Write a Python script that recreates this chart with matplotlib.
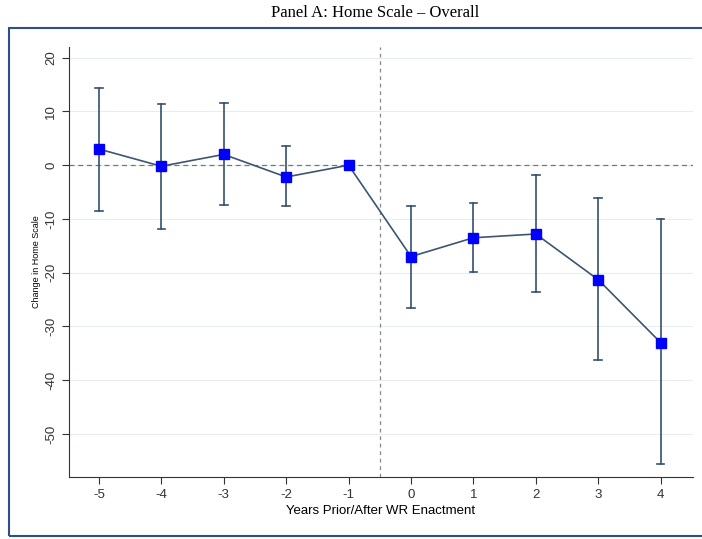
import numpy as np
import matplotlib.pyplot as plt
from matplotlib.patches import Rectangle

plt.rcParams['font.family'] = ['Liberation Sans', 'DejaVu Sans']

years = [-5, -4, -3, -2, -1, 0, 1, 2, 3, 4]
coef = [3.0, -0.2, 2.0, -2.2, 0.0, -17.0, -13.5, -12.8, -21.3, -33.0]
ci_hi = [14.4, 11.3, 11.5, 3.5, 0.0, -7.6, -7.0, -1.9, -6.1, -10.0]
ci_lo = [-8.5, -11.9, -7.4, -7.6, 0.0, -26.5, -19.8, -23.5, -36.3, -55.6]
yticks = [20, 10, 0, -10, -20, -30, -40, -50]

fig = plt.figure(figsize=(7.02, 5.39), dpi=100)
ax = fig.add_axes([0.0983, 0.115, 0.889, 0.798])

# frame around the panel
fig.patches.append(Rectangle((9 / 702, 3 / 539), 1.2, 508 / 539, transform=fig.transFigure,
                             fill=False, edgecolor='#2f4f8a', lw=1.5))
fig.text(0.534, 0.975, 'Panel A: Home Scale \u2013 Overall', ha='center', va='center',
         fontsize=12, family='Liberation Serif')

# confidence intervals
for x, lo, hi in zip(years, ci_lo, ci_hi):
    if hi != lo:
        ax.plot([x, x], [lo, hi], color='#34506e', lw=1.2, zorder=2)
        ax.plot([x - 0.06, x + 0.06], [hi, hi], color='#34506e', lw=1.2, zorder=2)
        ax.plot([x - 0.06, x + 0.06], [lo, lo], color='#34506e', lw=1.2, zorder=2)
ax.plot(years, coef, color='#3d5570', lw=1.2, marker='s', markersize=7.5,
        markerfacecolor='#0000ff', markeredgecolor='#0000ff', zorder=3)

ax.axhline(0, color='#777777', ls=(0, (4, 3)), lw=0.9, zorder=1)
ax.axvline(-0.5, color='#888888', ls=(0, (3, 3)), lw=0.9, zorder=1)

ax.set_xlim(-5.48, 4.52)
ax.set_ylim(-58, 22)
ax.set_xticks(years)
ax.set_xticklabels([str(y) for y in years], fontsize=9.5)
ax.set_yticks(yticks)
ax.set_yticklabels([str(v) for v in yticks], fontsize=9.5, rotation=90, va='center')
for v in yticks:
    ax.axhline(v, color='#e6eef0', lw=0.8, zorder=0)
ax.spines['top'].set_visible(False)
ax.spines['right'].set_visible(False)
ax.spines['left'].set_color('#333333')
ax.spines['bottom'].set_color('#333333')
ax.tick_params(colors='#333333', length=5)
ax.set_xlabel('Years Prior/After WR Enactment', fontsize=9.5, labelpad=3)
ax.set_ylabel('Change in Home Scale', fontsize=6.5, labelpad=3)

fig.savefig('out.png', dpi=100)
